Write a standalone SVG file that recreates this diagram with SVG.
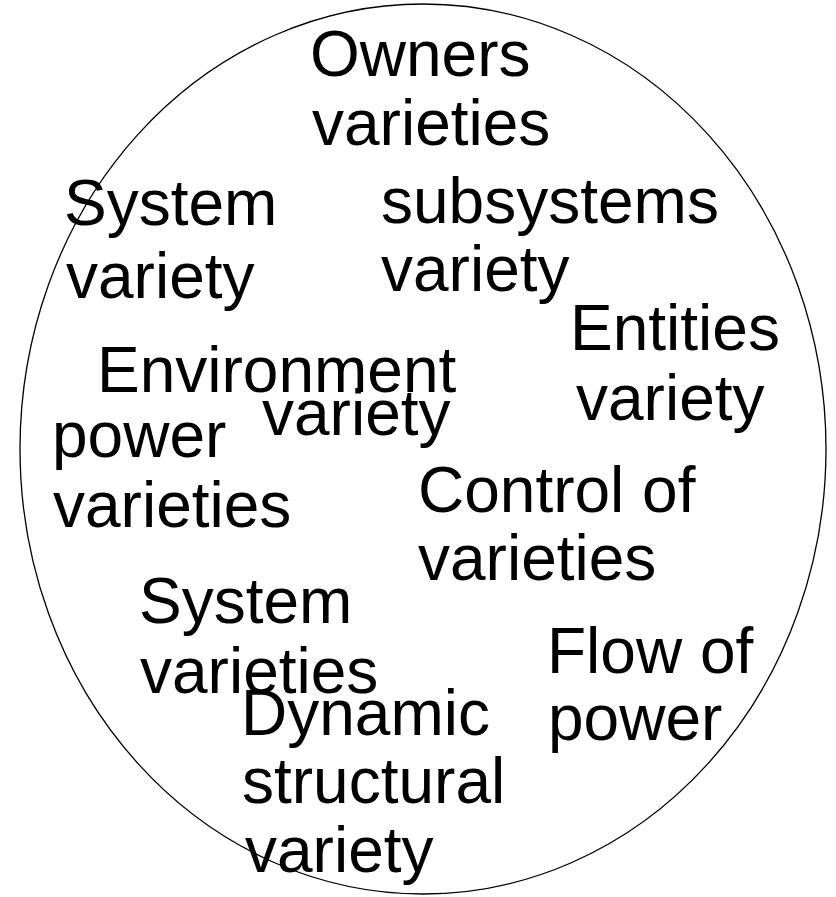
<svg xmlns="http://www.w3.org/2000/svg" width="836" height="897" viewBox="0 0 836 897">
<style>
text{font-family:"Liberation Sans",Arial,sans-serif;font-size:64px;fill:#000}
.ring{fill:none;stroke:#000;stroke-width:1.3}
</style>
<rect width="836" height="897" fill="#fff"/>
<g id="boundary"><ellipse class="ring" cx="423" cy="449" rx="403" ry="445"/></g>
<g id="owners"><text x="310" y="76">Owners</text><text x="312" y="145">varieties</text></g>
<g id="system-variety"><text x="64" y="225">System</text><text x="66" y="298">variety</text></g>
<g id="subsystems"><text x="381" y="223">subsystems</text><text x="381" y="291">variety</text></g>
<g id="environment"><text x="97" y="392">Environment</text><text x="262" y="435">variety</text></g>
<g id="power-varieties"><text x="52" y="457">power</text><text x="53" y="527">varieties</text></g>
<g id="entities"><text x="570" y="350">Entities</text><text x="576" y="420">variety</text></g>
<g id="control"><text x="418" y="512">Control of</text><text x="418" y="580">varieties</text></g>
<g id="system-varieties"><text x="139" y="623">System</text><text x="140" y="693">varieties</text></g>
<g id="dynamic"><text x="241" y="735">Dynamic</text><text x="242" y="803">structural</text><text x="245" y="872">variety</text></g>
<g id="flow"><text x="547" y="673">Flow of</text><text x="548" y="740">power</text></g>
<g id="connectors"></g>
</svg>
